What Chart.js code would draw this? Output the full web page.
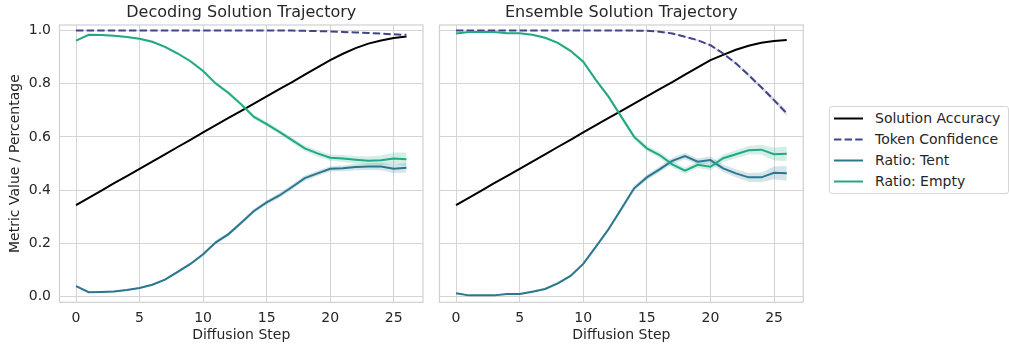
<!DOCTYPE html>
<html>
<head>
<meta charset="utf-8">
<script src="https://cdn.jsdelivr.net/npm/chart.js@4"></script>
<style>
  body { margin: 0; background: #fff; width: 1009px; height: 347px; position: relative; overflow: hidden; font-family: 'DejaVu Sans', sans-serif; color: #262626; }
  canvas { position: absolute; top: 0; }
  #legend { position: absolute; left: 829px; top: 106px; width: 178px; height: 86px; border: 1px solid #d6d6d6; border-radius: 3px; background: #fff; }
  .row { position: absolute; left: 0; height: 20px; width: 178px; }
  .row svg { position: absolute; left: 4px; top: 9px; }
  .row span { position: absolute; left: 45px; top: 0; font-size: 14px; line-height: 20px; white-space: nowrap; }
</style>
</head>
<body>
<canvas id="left" width="431" height="347" style="left:0"></canvas>
<canvas id="right" width="378" height="347" style="left:431px"></canvas>
<div id="legend"></div>
<script>
// steps shared by both panels
var steps = [0,1,2,3,4,5,6,7,8,9,10,11,12,13,14,15,16,17,18,19,20,21,22,23,24,25,26];

// Decoding panel
var decAcc = [0.344,0.371,0.398,0.426,0.453,0.480,0.507,0.534,0.562,0.589,0.617,0.644,0.671,0.698,0.725,0.752,0.779,0.806,0.834,0.861,0.888,0.912,0.933,0.950,0.962,0.971,0.977];
var decConf = [0.999,0.999,0.999,0.999,0.999,0.999,0.999,0.999,0.999,0.999,0.999,0.999,0.999,0.999,0.999,0.999,0.999,0.999,0.998,0.997,0.996,0.994,0.992,0.990,0.988,0.985,0.983];
var decTent = [0.040,0.017,0.018,0.020,0.025,0.033,0.045,0.064,0.093,0.123,0.159,0.204,0.235,0.278,0.322,0.354,0.380,0.412,0.445,0.463,0.480,0.482,0.487,0.489,0.489,0.480,0.484];
var decEmpty = [0.961,0.983,0.982,0.980,0.975,0.968,0.957,0.938,0.913,0.884,0.847,0.800,0.765,0.722,0.675,0.648,0.619,0.588,0.557,0.538,0.522,0.519,0.514,0.510,0.512,0.519,0.516];
var decTentErr = [0.004,0.003,0.003,0.003,0.003,0.003,0.004,0.004,0.005,0.005,0.006,0.006,0.007,0.007,0.008,0.008,0.009,0.009,0.010,0.010,0.010,0.011,0.012,0.013,0.014,0.016,0.018];
var decEmptyErr = [0.004,0.003,0.003,0.003,0.003,0.004,0.004,0.005,0.005,0.006,0.006,0.007,0.007,0.008,0.008,0.009,0.009,0.010,0.011,0.012,0.012,0.013,0.014,0.016,0.018,0.022,0.025];

// Ensemble panel
var ensAcc = [0.344,0.371,0.398,0.426,0.453,0.480,0.507,0.534,0.562,0.589,0.617,0.644,0.671,0.698,0.725,0.752,0.779,0.806,0.834,0.861,0.888,0.908,0.927,0.942,0.953,0.960,0.964];
var ensConf = [0.999,0.999,0.999,0.999,0.999,0.999,0.999,0.999,0.999,0.999,0.999,0.999,0.999,0.999,0.999,0.998,0.995,0.988,0.976,0.963,0.944,0.913,0.876,0.832,0.786,0.738,0.688];
var ensTent = [0.013,0.005,0.005,0.005,0.010,0.010,0.019,0.029,0.050,0.078,0.123,0.188,0.254,0.330,0.407,0.448,0.478,0.510,0.528,0.507,0.513,0.482,0.463,0.448,0.448,0.465,0.463];
var ensEmpty = [0.988,0.994,0.994,0.994,0.989,0.989,0.983,0.972,0.953,0.923,0.882,0.813,0.750,0.675,0.600,0.557,0.532,0.497,0.473,0.495,0.488,0.520,0.535,0.550,0.552,0.535,0.537];
var ensConfErr = [0,0,0,0,0,0,0,0,0,0,0,0,0,0,0,0.001,0.001,0.002,0.002,0.003,0.003,0.004,0.005,0.006,0.007,0.008,0.010];
var ensTentErr = [0.003,0.002,0.002,0.002,0.002,0.003,0.003,0.004,0.004,0.005,0.006,0.007,0.008,0.009,0.010,0.010,0.011,0.012,0.012,0.012,0.013,0.014,0.015,0.016,0.018,0.024,0.028];
var ensEmptyErr = [0.003,0.002,0.002,0.002,0.002,0.003,0.003,0.004,0.004,0.005,0.006,0.007,0.008,0.009,0.010,0.010,0.011,0.012,0.012,0.012,0.013,0.014,0.015,0.016,0.018,0.024,0.028];

var seriesNames = ['Solution Accuracy', 'Token Confidence', 'Ratio: Tent', 'Ratio: Empty'];
var colors = ['#000000', '#414487', '#2a788e', '#22a884'];
var bandColors = ['rgba(0,0,0,0.2)', 'rgba(65,68,135,0.2)', 'rgba(42,120,142,0.2)', 'rgba(34,168,132,0.2)'];

Chart.defaults.font.family = "'DejaVu Sans', sans-serif";
Chart.defaults.color = '#262626';

function pts(vals) {
  return steps.map(function (s, i) { return {x: s, y: vals[i]}; });
}
function shifted(vals, err, sign) {
  return steps.map(function (s, i) { return {x: s, y: vals[i] + sign * err[i]}; });
}

function lineSet(vals, k, order) {
  return {
    label: seriesNames[k], data: pts(vals), borderColor: colors[k], borderWidth: 2,
    borderDash: k === 1 ? [7.4, 3.2] : [], pointRadius: 0, fill: false, tension: 0, order: order
  };
}
function bandSets(vals, err, k, order) {
  return [
    {label: 'hi', data: shifted(vals, err, 1), borderWidth: 0, pointRadius: 0, backgroundColor: bandColors[k], fill: '+1', order: order},
    {label: 'lo', data: shifted(vals, err, -1), borderWidth: 0, pointRadius: 0, backgroundColor: bandColors[k], fill: false, order: order}
  ];
}

var frame = {
  id: 'frame',
  afterDraw: function (chart) {
    var a = chart.chartArea, ctx = chart.ctx;
    ctx.save();
    ctx.strokeStyle = '#d0d0d0';
    ctx.lineWidth = 1.2;
    ctx.strokeRect(a.left, a.top, a.right - a.left, a.bottom - a.top);
    ctx.restore();
  }
};

function makeChart(id, title, acc, conf, tent, empty, confErr, tentErr, emptyErr, showY, padRight, yWidth) {
  var ds = [];
  ds.push(lineSet(empty, 3, 1));
  ds.push(lineSet(tent, 2, 3));
  ds.push(lineSet(conf, 1, 5));
  ds.push(lineSet(acc, 0, 7));
  ds = ds.concat(bandSets(empty, emptyErr, 3, 2));
  ds = ds.concat(bandSets(tent, tentErr, 2, 4));
  if (confErr) ds = ds.concat(bandSets(conf, confErr, 1, 6));

  return new Chart(document.getElementById(id).getContext('2d'), {
    type: 'line',
    data: {datasets: ds},
    plugins: [frame],
    options: {
      responsive: false,
      animation: false,
      devicePixelRatio: 1,
      layout: {padding: {left: 0, right: padRight, top: 0, bottom: 0}},
      plugins: {
        legend: {display: false},
        tooltip: {enabled: false},
        title: {
          display: true, text: title, fullSize: false,
          font: {size: 16, weight: 'normal'}, color: '#262626',
          padding: {top: 3.4, bottom: 2.4}
        }
      },
      scales: {
        x: {
          type: 'linear', min: -1.3, max: 27.3,
          grid: {color: '#d4d4d4', lineWidth: 1, drawTicks: false, tickLength: 0},
          border: {display: false},
          ticks: {stepSize: 5, includeBounds: false, padding: 7.6, font: {size: 14}, color: '#262626', maxRotation: 0},
          title: {display: true, text: 'Diffusion Step', font: {size: 14}, color: '#262626', padding: {top: 0, bottom: 3.6}},
          afterFit: function (s) { s.height = 44.7; }
        },
        y: {
          type: 'linear', min: -0.021, max: 1.02,
          grid: {color: '#d4d4d4', lineWidth: 1, drawTicks: false, tickLength: 0},
          border: {display: false},
          ticks: {
            display: showY, stepSize: 0.2, includeBounds: false, padding: 8.5,
            font: {size: 14}, color: '#262626',
            callback: function (v) { return v.toFixed(1); }
          },
          title: {display: showY, text: 'Metric Value / Percentage', font: {size: 14}, color: '#262626', padding: {top: 6.6, bottom: 0}},
          afterFit: function (s) { s.width = yWidth; }
        }
      }
    }
  });
}

makeChart('left', 'Decoding Solution Trajectory', decAcc, decConf, decTent, decEmpty, null, decTentErr, decEmptyErr, true, 8, 59.5);
makeChart('right', 'Ensemble Solution Trajectory', ensAcc, ensConf, ensTent, ensEmpty, ensConfErr, ensTentErr, ensEmptyErr, false, 5.7, 8.5);

// legend
var legend = document.getElementById('legend');
var rowTops = [0.7, 22.3, 43.3, 64];
seriesNames.forEach(function (name, k) {
  var row = document.createElement('div');
  row.className = 'row';
  row.style.top = rowTops[k] + 'px';
  var dash = k === 1 ? ' stroke-dasharray="7.4 3.2"' : '';
  row.innerHTML = '<svg width="30" height="3"><line x1="0" y1="1.5" x2="29" y2="1.5" stroke="' + colors[k] + '" stroke-width="2"' + dash + '/></svg><span>' + name + '</span>';
  legend.appendChild(row);
});
</script>
</body>
</html>
